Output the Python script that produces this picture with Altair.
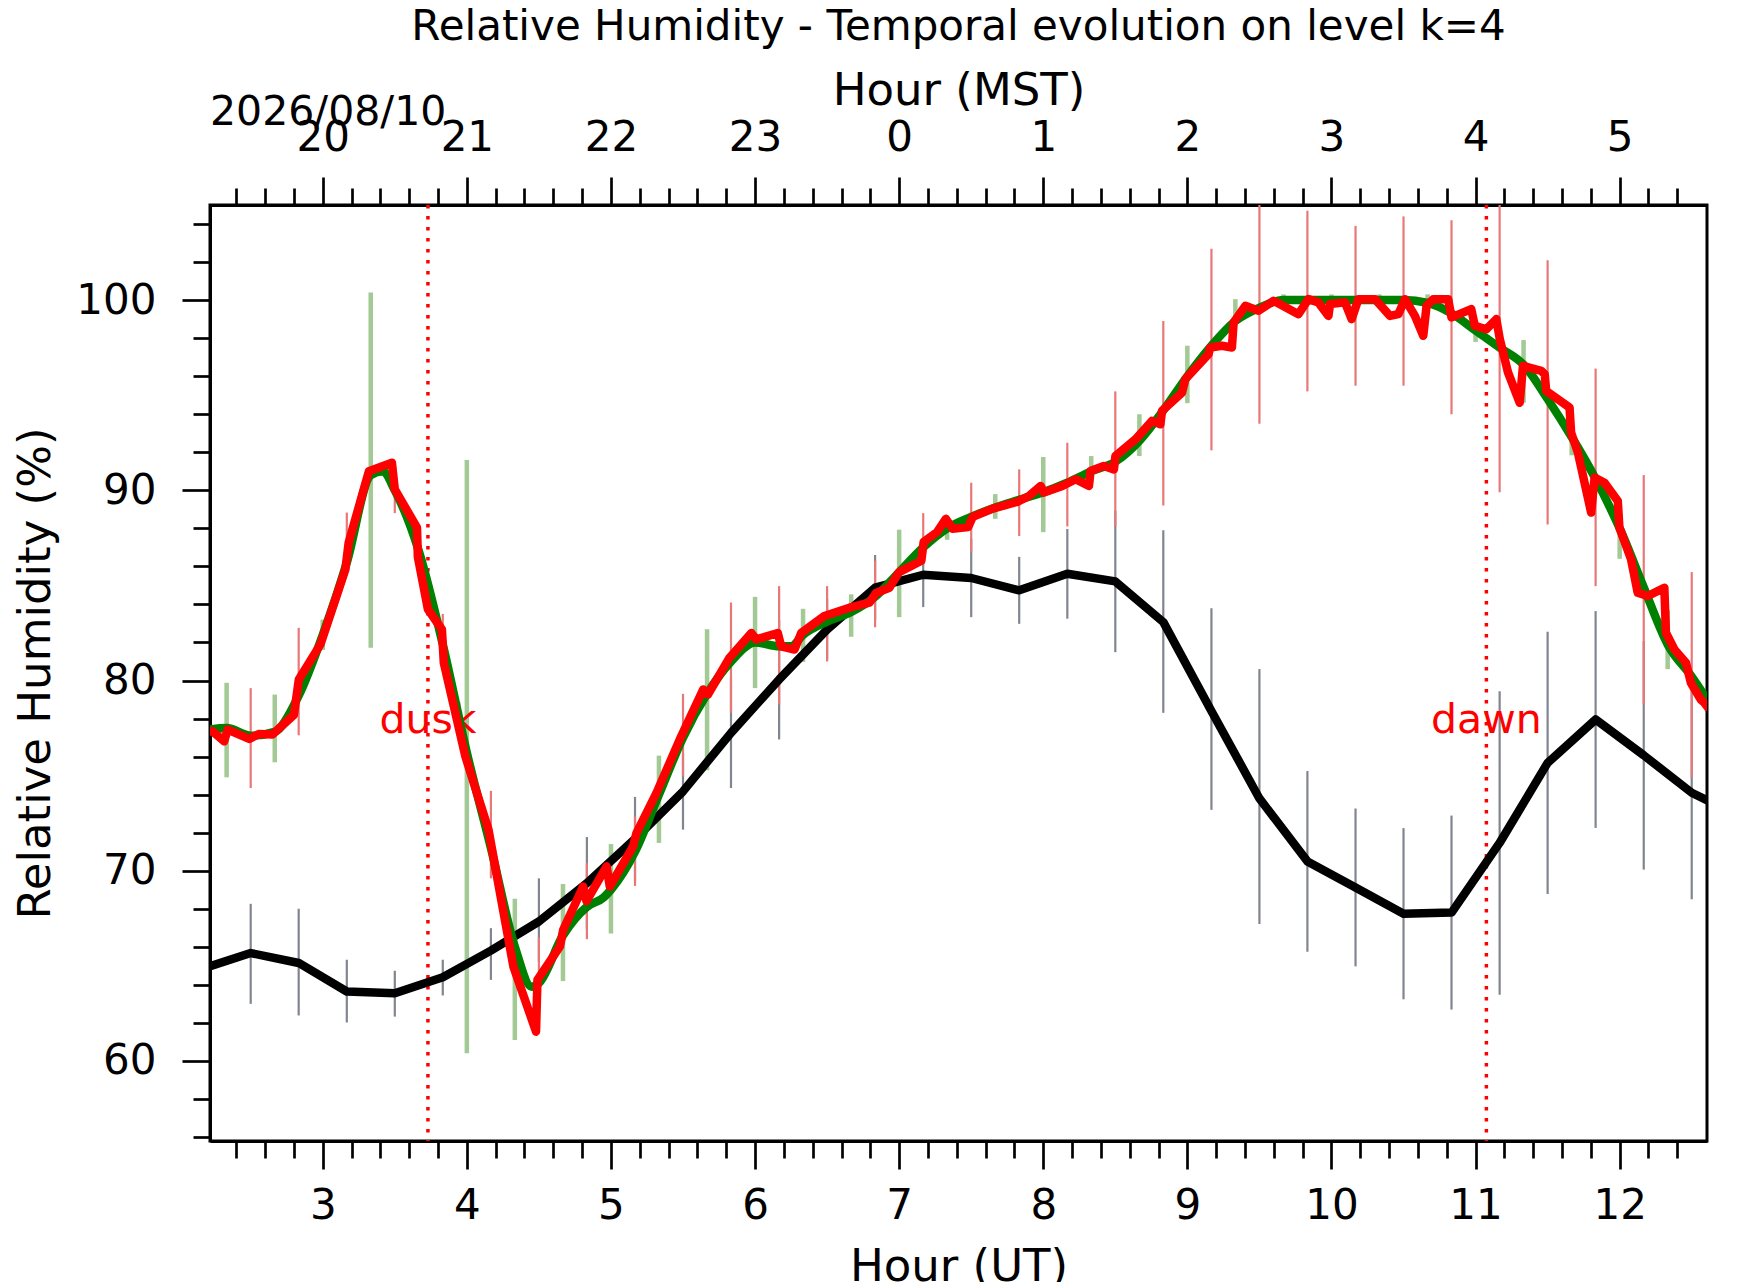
import altair as alt
import pandas as pd

FONT = "DejaVu Sans"
X_DOMAIN = [2.2176, 12.606]
Y_DOMAIN = [55.79, 105.0]
W, H = 1497, 936

TITLE = "Relative Humidity - Temporal evolution on level k=4"
DATE_TEXT = "2026/08/10"
DATE_Y = 109.18
EVENT_X = [3.73, 11.075]
EVENT_LABEL = ["dusk", "dawn"]
EVENT_Y = [77.25, 77.25]

# black series (20-min means) and its grey error bars
black_x = [2.1667, 2.5, 2.8333, 3.1667, 3.5, 3.8333, 4.1667, 4.5, 4.8333, 5.1667, 5.5,
           5.8333, 6.1667, 6.5, 6.8333, 7.1667, 7.5, 7.8333, 8.1667, 8.5, 8.8333, 9.1667,
           9.5, 9.8333, 10.1667, 10.5, 10.8333, 11.1667, 11.5, 11.8333, 12.1667, 12.5, 12.8333]
black_y = [64.85, 65.67, 65.15, 63.65, 63.56, 64.4, 65.8, 67.33, 69.35, 71.67, 74.17,
           77.25, 80.05, 82.68, 84.88, 85.56, 85.39, 84.74, 85.61, 85.21, 83.07, 78.4,
           73.8, 70.49, 69.12, 67.74, 67.8, 71.46, 75.67, 77.95, 76.07, 74.1, 72.85]

bar_x = [2.5, 2.833, 3.167, 3.5, 3.833, 4.167, 4.5, 4.833, 5.167, 5.5, 5.833, 6.167, 6.5,
         6.833, 7.167, 7.5, 7.833, 8.167, 8.5, 8.833, 9.167, 9.5, 9.833, 10.167, 10.5,
         10.833, 11.167, 11.5, 11.833, 12.167, 12.5]
gray_hi = [68.26, 68.0, 65.32, 64.74, 65.32, 66.98, 69.6, 71.77, 73.88, 76.18, 80.15, 83.2,
           84.3, 86.6, 87.26, 87.45, 86.5, 87.97, 88.93, 87.9, 83.8, 80.6, 75.24, 73.27,
           72.24, 72.9, 79.44, 82.56, 83.65, 82.08, 79.7]
gray_lo = [63.0, 62.39, 62.02, 62.33, 63.44, 64.26, 65.2, 66.93, 69.46, 72.16, 74.35, 76.9,
           81.1, 83.2, 83.86, 83.33, 82.98, 83.25, 81.49, 78.3, 73.2, 67.2, 65.74, 64.97,
           63.24, 62.7, 63.48, 68.78, 72.25, 70.06, 68.5]
red_hi = [79.6, 82.77, 88.83, 90.2, 83.5, 74.2, 66.5, 70.4, 72.86, 79.3, 84.1, 84.96, 84.96,
          86.3, 88.8, 90.4, 91.1, 92.5, 95.2, 98.9, 102.7, 105.5, 104.7, 103.9, 104.4, 104.2,
          105.5, 102.1, 96.4, 90.8, 85.7]
red_lo = [74.35, 77.12, 85.54, 88.8, 81.6, 69.6, 62.5, 66.4, 69.2, 74.96, 78.3, 78.74, 81.0,
          82.8, 86.1, 86.75, 87.6, 88.1, 88.1, 89.2, 92.1, 93.5, 95.2, 95.5, 95.5, 94.0, 89.9,
          88.2, 84.96, 78.74, 74.9]

# green series (smooth) and its error bars
green_x = [2.2, 2.333, 2.5, 2.667, 2.833, 3.0, 3.167, 3.333, 3.417, 3.5, 3.667, 3.833, 4.0,
           4.167, 4.333, 4.45, 4.5, 4.667, 4.833, 4.95, 5.0, 5.167, 5.333, 5.5, 5.667, 5.833,
           6.0, 6.167, 6.25, 6.333, 6.5, 6.667, 6.833, 7.0, 7.167, 7.333, 7.5, 7.667, 7.833,
           8.0, 8.167, 8.333, 8.5, 8.667, 8.833, 9.0, 9.167, 9.333, 9.5, 9.667, 10.5, 10.667,
           10.833, 11.0, 11.167, 11.333, 11.5, 11.667, 11.833, 12.0, 12.167, 12.333, 12.5, 12.667]
green_y = [77.4, 77.5, 77.1, 77.3, 79.2, 82.4, 86.2, 90.8, 91.0, 90.0, 86.8, 81.9, 76.2,
           71.2, 66.0, 63.9, 64.1, 66.6, 68.1, 68.6, 69.0, 71.0, 74.0, 77.0, 79.3, 81.0,
           82.0, 81.8, 81.8, 82.4, 83.1, 83.6, 84.4, 85.7, 87.0, 88.0, 88.6, 89.1, 89.5,
           89.9, 90.4, 91.0, 91.5, 92.6, 94.2, 96.0, 97.6, 98.9, 99.6, 100.0, 100.0, 99.85,
           99.3, 98.4, 97.5, 96.6, 94.8, 92.8, 90.6, 88.0, 84.9, 81.9, 80.2, 78.3]
gbar_x = [2.333, 2.667, 3.0, 3.333, 3.667, 4.0, 4.333, 4.667, 5.0, 5.333, 5.667, 6.0, 6.333,
          6.667, 7.0, 7.333, 7.667, 8.0, 8.333, 8.667, 9.0, 9.333, 9.667, 10.0, 10.333,
          10.667, 11.0, 11.333, 11.667, 12.0, 12.333]
gbar_hi = [79.88, 79.26, 83.2, 100.4, 87.6, 91.6, 68.53, 69.3, 71.4, 76.05, 82.7, 84.4, 83.77,
           84.53, 87.93, 88.6, 89.8, 91.75, 91.8, 94.0, 97.6, 100.05, 100.3, 100.3, 100.3,
           100.3, 98.9, 97.9, 94.35, 89.5, 83.7]
gbar_lo = [74.91, 75.7, 81.6, 81.72, 85.9, 60.4, 61.1, 64.2, 66.7, 71.46, 75.28, 79.6, 80.98,
           82.3, 83.33, 87.4, 88.5, 87.8, 90.4, 91.8, 94.58, 98.65, 99.7, 99.7, 99.7, 99.4,
           97.8, 94.6, 91.84, 86.4, 80.6]

# red series (high resolution)
red_x = [2.2, 2.236, 2.316, 2.34, 2.49, 2.557, 2.65, 2.8, 2.834, 2.984, 3.157, 3.18, 3.32,
         3.48, 3.5, 3.654, 3.66, 3.73, 3.827, 3.84, 3.99, 4.15, 4.323, 4.48, 4.49, 4.646,
         4.669, 4.807, 4.83, 4.97, 4.992, 5.154, 5.177, 5.316, 5.477, 5.64, 5.673, 5.823,
         5.974, 6.008, 6.158, 6.181, 6.274, 6.32, 6.481, 6.655, 6.793, 6.84, 6.932, 7.0,
         7.154, 7.17, 7.263, 7.324, 7.37, 7.479, 7.51, 7.649, 7.819, 7.901, 7.982, 8.005,
         8.132, 8.224, 8.317, 8.328, 8.42, 8.49, 8.501, 8.64, 8.755, 8.813, 8.824, 8.963,
         8.986, 9.147, 9.159, 9.24, 9.309, 9.321, 9.402, 9.494, 9.598, 9.771, 9.84, 9.909,
         9.979, 9.99, 10.094, 10.14, 10.187, 10.302, 10.406, 10.464, 10.51, 10.579, 10.637,
         10.66, 10.706, 10.81, 10.833, 10.97, 10.995, 11.075, 11.144, 11.168, 11.225, 11.306,
         11.329, 11.456, 11.48, 11.49, 11.652, 11.663, 11.71, 11.802, 11.826, 11.895, 11.987,
         11.998, 12.079, 12.125, 12.195, 12.31, 12.321, 12.38, 12.46, 12.494, 12.563, 12.587,
         12.62]
red_y = [77.3, 77.33, 76.8, 77.42, 76.93, 77.19, 77.16, 78.2, 80.05, 81.9, 85.84, 87.25, 91.0,
         91.45, 90.05, 88.04, 86.5, 83.74, 82.68, 80.93, 76.0, 72.16, 64.96, 61.54, 64.26, 66.02,
         66.9, 69.17, 68.4, 70.23, 69.17, 71.28, 71.98, 74.09, 76.89, 79.53, 79.26, 81.2,
         82.5, 82.16, 82.5, 81.8, 81.63, 82.5, 83.39, 83.83, 84.09, 84.6, 84.88, 85.7,
         86.3, 87.28, 87.8, 88.5, 87.98, 88.07, 88.6, 89.04, 89.39, 89.7, 90.23, 89.88,
         90.23, 90.58, 90.23, 91.02, 91.28, 91.1, 91.8, 92.68, 93.65, 93.47, 94.17, 95.14,
         95.84, 97.16, 97.51, 97.6, 97.51, 98.82, 99.7, 99.44, 99.96, 99.26, 100.05, 99.88,
         99.17, 99.79, 99.88, 99.0, 100.05, 100.05, 99.17, 99.26, 100.05, 99.17, 98.12,
         99.7, 100.05, 100.05, 99.09, 99.53, 98.65, 98.47, 99.0, 97.95, 96.2, 94.6,
         96.54, 96.28, 96.1, 95.23, 94.35, 93.04, 91.98, 88.83, 90.67, 90.4, 89.44,
         88.04, 86.37, 84.62, 84.44, 84.88, 82.51, 81.63, 80.93, 79.88, 79.0, 78.83,
         78.5]

# axis tick positions
x_tick_values = [round(2.4 + 0.2 * i, 1) for i in range(51)]
y_tick_values = [float(v) for v in range(56, 105, 2)]

df_black = pd.DataFrame({"x": black_x, "y": black_y})
df_green = pd.DataFrame({"x": green_x, "y": green_y})
df_red = pd.DataFrame({"x": red_x, "y": red_y})
df_gray_bar = pd.DataFrame({"x": bar_x, "lo": gray_lo, "hi": gray_hi})
df_red_bar = pd.DataFrame({"x": bar_x, "lo": red_lo, "hi": red_hi})
df_green_bar = pd.DataFrame({"x": gbar_x, "lo": gbar_lo, "hi": gbar_hi})
df_events = pd.DataFrame({"x": EVENT_X, "y": EVENT_Y, "t": EVENT_LABEL})
df_date = pd.DataFrame({"x": [X_DOMAIN[0]], "y": [DATE_Y], "t": [DATE_TEXT]})

xs = alt.Scale(domain=X_DOMAIN, nice=False, zero=False)
ys = alt.Scale(domain=Y_DOMAIN, nice=False, zero=False)

MAJOR_X = "abs(datum.value - round(datum.value)) < 0.01"
MAJOR_Y = "abs(datum.value - 10 * round(datum.value / 10)) < 0.01"

common_axis = dict(
    tickWidth=2.7, tickColor="black", domainColor="black", domainWidth=3,
    labelFont=FONT, labelFontSize=42, labelColor="black", labelOverlap=False,
    grid=False, titleFont=FONT, titleFontSize=45, titleFontWeight="normal",
    titleColor="black",
)

bottom_axis = alt.Axis(
    orient="bottom", values=x_tick_values,
    labelExpr=f"{MAJOR_X} ? format(round(datum.value), 'd') : ''",
    tickSize={"condition": {"test": MAJOR_X, "value": 28}, "value": 17},
    labelPadding=16, labelFlush=False, title="Hour (UT)", titleY=139,
    titleBaseline="alphabetic", **common_axis)

top_axis = alt.Axis(
    orient="top", values=x_tick_values,
    labelExpr=f"{MAJOR_X} ? format((round(datum.value) + 17) % 24, 'd') : ''",
    tickSize={"condition": {"test": MAJOR_X, "value": 28}, "value": 17},
    labelPadding=18, labelFlush=False, title="Hour (MST)", titleY=-101,
    titleBaseline="alphabetic", **common_axis)

left_axis = alt.Axis(
    orient="left", values=y_tick_values,
    labelExpr=f"{MAJOR_Y} ? format(datum.value, 'd') : ''",
    tickSize={"condition": {"test": MAJOR_Y, "value": 28}, "value": 17},
    labelPadding=26, title="Relative Humidity (%)", titlePadding=17,
    **common_axis)

green_bars = alt.Chart(df_green_bar).mark_rule(
    color="#a3c994", strokeWidth=4.5, clip=True
).encode(
    x=alt.X("x:Q", scale=xs, axis=bottom_axis),
    y=alt.Y("lo:Q", scale=ys, axis=None),
    y2="hi:Q",
)

gray_bars = alt.Chart(df_gray_bar).mark_rule(
    color="#80858f", strokeWidth=2.2, clip=True
).encode(
    x=alt.X("x:Q", scale=xs, axis=None),
    y=alt.Y("lo:Q", scale=ys, axis=None),
    y2="hi:Q",
)

red_bars = alt.Chart(df_red_bar).mark_rule(
    color="#e87878", strokeWidth=2.2, clip=True
).encode(
    x=alt.X("x:Q", scale=xs, axis=None),
    y=alt.Y("lo:Q", scale=ys, axis=None),
    y2="hi:Q",
)

event_text = alt.Chart(df_events).mark_text(
    font=FONT, fontSize=41, color="red", align="center", baseline="alphabetic"
).encode(
    x=alt.X("x:Q", scale=xs, axis=None),
    y=alt.Y("y:Q", scale=ys, axis=None),
    text="t:N",
)

event_rules = alt.Chart(df_events).mark_rule(
    color="red", strokeWidth=3.5, strokeDash=[3.5, 7.5]
).encode(
    x=alt.X("x:Q", scale=xs, axis=None),
)

black_line = alt.Chart(df_black).mark_line(
    color="black", strokeWidth=8.5, clip=True, strokeJoin="round"
).encode(
    x=alt.X("x:Q", scale=xs, axis=None),
    y=alt.Y("y:Q", scale=ys, axis=left_axis),
)

green_line = alt.Chart(df_green).mark_line(
    color="#008000", strokeWidth=8.5, clip=True, interpolate="monotone"
).encode(
    x=alt.X("x:Q", scale=xs, axis=top_axis),
    y=alt.Y("y:Q", scale=ys, axis=None),
)

red_line = alt.Chart(df_red).mark_line(
    color="#ff0000", strokeWidth=8.5, clip=True, strokeJoin="round"
).encode(
    x=alt.X("x:Q", scale=xs, axis=None),
    y=alt.Y("y:Q", scale=ys, axis=None),
)

date_text = alt.Chart(df_date).mark_text(
    font=FONT, fontSize=41, color="black", align="left", baseline="alphabetic"
).encode(
    x=alt.X("x:Q", scale=xs, axis=None),
    y=alt.Y("y:Q", scale=ys, axis=None),
    text="t:N",
)

chart = alt.layer(
    green_bars, gray_bars, red_bars, event_text, event_rules,
    black_line, green_line, red_line, date_text
).resolve_axis(
    x="independent", y="independent"
).properties(
    width=W, height=H,
    autosize=alt.AutoSizeParams(type="none"),
    padding={"left": 202, "top": 197, "right": 27, "bottom": 141},
    title=alt.TitleParams(
        TITLE, font=FONT, fontSize=42, fontWeight="normal", color="black",
        anchor="middle", frame="group", offset=19,
    ),
).configure(
    font=FONT, background="white"
).configure_view(
    stroke="black", strokeWidth=3
)

chart.save("out.html", embed_options={"renderer": "svg", "actions": False})
